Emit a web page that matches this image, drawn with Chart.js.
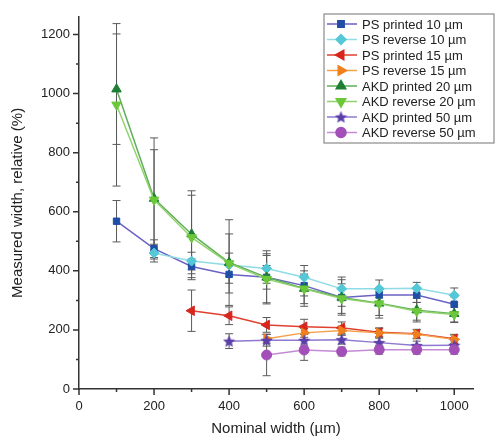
<!DOCTYPE html>
<html lang="en">
<head>
<meta charset="UTF-8">
<title>Measured width vs nominal width</title>
<script src="https://cdn.jsdelivr.net/npm/chart.js@4.4.1/dist/chart.umd.min.js"></script>
<style>
  html, body { margin: 0; padding: 0; background: #fff; }
  #wrap { position: relative; width: 497px; height: 438px; }
</style>
</head>
<body>
<div id="wrap"><canvas id="chart" width="497" height="438"></canvas></div>
<script>
// --- data ---
var nominalWidths = [100, 200, 300, 400, 500, 600, 700, 800, 900, 1000];

var psPrinted10     = [568, 475, 415, 388, 378, 350, 310, 318, 318, 287];
var psPrinted10Err  = [70, 30, 25, 30, 40, 35, 30, 25, 25, 25];
var psReverse10     = [null, 460, 433, 420, 408, 378, 339, 339, 341, 317];
var psReverse10Err  = [null, 30, 30, 40, 50, 40, 40, 30, 20, 25];
var psPrinted15     = [null, null, 265, 248, 217, 211, 207, 192, 187, 170];
var psPrinted15Err  = [null, null, 70, 30, 25, 25, 20, 15, 15, 15];
var psReverse15     = [null, null, null, null, 170, 190, 198, 190, 185, 168];
var psReverse15Err  = [null, null, null, null, 15, 15, 15, 15, 15, 15];
var akdPrinted20    = [1015, 645, 524, 428, 378, 340, 310, 290, 267, 255];
var akdPrinted20Err = [187, 205, 147, 145, 90, 60, 60, 50, 40, 30];
var akdReverse20    = [962, 640, 513, 425, 372, 339, 306, 289, 263, 252];
var akdReverse20Err = [275, 170, 143, 100, 80, 50, 50, 40, 30, 25];
var akdPrinted50    = [null, null, null, 162, 165, 165, 167, 157, 147, 148];
var akdPrinted50Err = [null, null, null, 25, 20, 20, 15, 15, 15, 15];
var akdReverse50    = [null, null, null, null, 115, 132, 127, 133, 133, 133];
var akdReverse50Err = [null, null, null, null, 70, 35, 15, 15, 15, 15];

var seriesLabels = ['PS printed 10 \u00b5m', 'PS reverse 10 \u00b5m', 'PS printed 15 \u00b5m', 'PS reverse 15 \u00b5m',
                    'AKD printed 20 \u00b5m', 'AKD reverse 20 \u00b5m', 'AKD printed 50 \u00b5m', 'AKD reverse 50 \u00b5m'];
var xTicks = [0, 200, 400, 600, 800, 1000];
var yTicks = [0, 200, 400, 600, 800, 1000, 1200];

var FONT = "'Liberation Sans', Arial, sans-serif";

// filled five point star used as point style
function makeStar(color, size) {
  var c = document.createElement('canvas');
  c.width = size; c.height = size;
  var g = c.getContext('2d');
  var cx = size / 2, cy = size / 2 + 0.5, ro = size / 2, ri = ro * 0.45;
  g.beginPath();
  for (var k = 0; k < 10; k++) {
    var r = k % 2 ? ri : ro;
    var a = -Math.PI / 2 + k * Math.PI / 5;
    g.lineTo(cx + r * Math.cos(a), cy + r * Math.sin(a));
  }
  g.closePath();
  g.fillStyle = color; g.fill();
  return c;
}

function toPoints(ys) {
  var pts = [];
  ys.forEach(function (y, i) { if (y !== null) pts.push({ x: nominalWidths[i], y: y }); });
  return pts;
}
function toErr(ys, es) {
  var out = [];
  ys.forEach(function (y, i) { if (y !== null) out.push(es[i]); });
  return out;
}

function series(idx, ys, es, line, fill, style, rot, radius) {
  return {
    label: seriesLabels[idx],
    data: toPoints(ys),
    errors: toErr(ys, es),
    borderColor: line,
    backgroundColor: fill,
    borderWidth: 1.5,
    pointStyle: style,
    pointRotation: rot,
    pointRadius: radius,
    pointBackgroundColor: fill,
    pointBorderColor: fill,
    pointBorderWidth: 1,
    tension: 0,
    order: 8 - idx
  };
}

var starImg = makeStar('#5b3fa8', 13);
var datasets = [
  series(0, psPrinted10, psPrinted10Err, '#6a62c4', '#1f4ea6', 'rect', 0, 4.5),
  series(1, psReverse10, psReverse10Err, '#8fdbe6', '#55c8d8', 'rectRot', 0, 5),
  series(2, psPrinted15, psPrinted15Err, '#e0402e', '#d8261c', 'triangle', 270, 5.5),
  series(3, psReverse15, psReverse15Err, '#f4a04a', '#f0801e', 'triangle', 90, 5.5),
  series(4, akdPrinted20, akdPrinted20Err, '#5fae5a', '#1e7f34', 'triangle', 0, 5.5),
  series(5, akdReverse20, akdReverse20Err, '#8fd36a', '#6cc83a', 'triangle', 180, 5.5),
  series(6, akdPrinted50, akdPrinted50Err, '#8f78d0', '#5b3fa8', starImg, 0, 6),
  series(7, akdReverse50, akdReverse50Err, '#c58ad6', '#a34fb8', 'circle', 0, 5)
];

// error bars behind the lines
var errorBars = {
  id: 'errorBars',
  beforeDatasetsDraw: function (chart) {
    var ctx = chart.ctx, xs = chart.scales.x, ys = chart.scales.y;
    ctx.save();
    ctx.strokeStyle = '#5a5a5a';
    ctx.lineWidth = 1;
    chart.data.datasets.forEach(function (ds) {
      ds.data.forEach(function (p, i) {
        var e = ds.errors[i];
        if (!e) return;
        var x = xs.getPixelForValue(p.x);
        var y1 = ys.getPixelForValue(p.y + e), y2 = ys.getPixelForValue(p.y - e);
        ctx.beginPath();
        ctx.moveTo(x, y1); ctx.lineTo(x, y2);
        ctx.moveTo(x - 4, y1); ctx.lineTo(x + 4, y1);
        ctx.moveTo(x - 4, y2); ctx.lineTo(x + 4, y2);
        ctx.stroke();
      });
    });
    ctx.restore();
  }
};

// major + minor tick marks, pointing outward
var tickMarks = {
  id: 'tickMarks',
  afterDraw: function (chart) {
    var ctx = chart.ctx, xs = chart.scales.x, ys = chart.scales.y, a = chart.chartArea;
    ctx.save();
    ctx.strokeStyle = '#333';
    ctx.lineWidth = 1.5;
    ctx.beginPath();
    for (var v = 0; v <= 1000; v += 100) {
      var px = xs.getPixelForValue(v);
      ctx.moveTo(px, a.bottom); ctx.lineTo(px, a.bottom + (v % 200 ? 3 : 6));
    }
    for (var w = 0; w <= 1200; w += 100) {
      var py = ys.getPixelForValue(w);
      ctx.moveTo(a.left, py); ctx.lineTo(a.left - (w % 200 ? 3 : 6), py);
    }
    ctx.stroke();
    ctx.restore();
  }
};

// boxed legend inside the plot, line - marker - line
var boxLegend = {
  id: 'boxLegend',
  afterDraw: function (chart) {
    var ctx = chart.ctx;
    var bx = 324, by = 14, bw = 170, bh = 129;
    ctx.save();
    ctx.fillStyle = '#fff';
    ctx.fillRect(bx, by, bw, bh);
    ctx.strokeStyle = '#8a8a8a';
    ctx.lineWidth = 1.2;
    ctx.strokeRect(bx, by, bw, bh);
    chart.data.datasets.forEach(function (ds, i) {
      var yc = 24 + i * 15.5;
      ctx.strokeStyle = ds.borderColor;
      ctx.lineWidth = 1.5;
      ctx.beginPath(); ctx.moveTo(327, yc); ctx.lineTo(357, yc); ctx.stroke();
      ctx.fillStyle = ds.pointBackgroundColor;
      ctx.strokeStyle = ds.pointBorderColor;
      Chart.helpers.drawPoint(ctx, { pointStyle: ds.pointStyle, rotation: ds.pointRotation, radius: ds.pointRadius, borderWidth: 1 }, 341, yc);
      ctx.fillStyle = '#222';
      ctx.font = '13px ' + FONT;
      ctx.textBaseline = 'middle';
      ctx.textAlign = 'left';
      ctx.fillText(ds.label, 362, yc + 1);
    });
    ctx.restore();
  }
};

function plainLabel(v) { return String(v); }

new Chart(document.getElementById('chart'), {
  type: 'line',
  data: { datasets: datasets },
  options: {
    responsive: false,
    devicePixelRatio: 1,
    animation: false,
    layout: { padding: { top: 9, right: 24, left: 0, bottom: 0 } },
    plugins: { legend: { display: false }, tooltip: { enabled: false } },
    scales: {
      x: {
        type: 'linear', min: 0, max: 1050,
        afterFit: function (s) { s.height = 49; },
        afterBuildTicks: function (s) { s.ticks = xTicks.map(function (v) { return { value: v }; }); },
        grid: { display: false, drawTicks: false },
        border: { display: true, color: '#333', width: 1.5 },
        ticks: { padding: 10, color: '#222', font: { family: FONT, size: 13 }, maxRotation: 0, callback: plainLabel },
        title: { display: true, text: 'Nominal width (\u00b5m)', color: '#222', font: { family: FONT, size: 15 }, padding: { top: 0, bottom: 0 } }
      },
      y: {
        type: 'linear', min: 0, max: 1260,
        afterFit: function (s) { s.width = 79; },
        afterBuildTicks: function (s) { s.ticks = yTicks.map(function (v) { return { value: v }; }); },
        grid: { display: false, drawTicks: false },
        border: { display: true, color: '#333', width: 1.5 },
        ticks: { padding: 9, color: '#222', font: { family: FONT, size: 13 }, callback: plainLabel },
        title: { display: true, text: 'Measured width, relative (%)', color: '#222', font: { family: FONT, size: 15 }, padding: { top: 9, bottom: 0 } }
      }
    }
  },
  plugins: [errorBars, tickMarks, boxLegend]
});
</script>
</body>
</html>
